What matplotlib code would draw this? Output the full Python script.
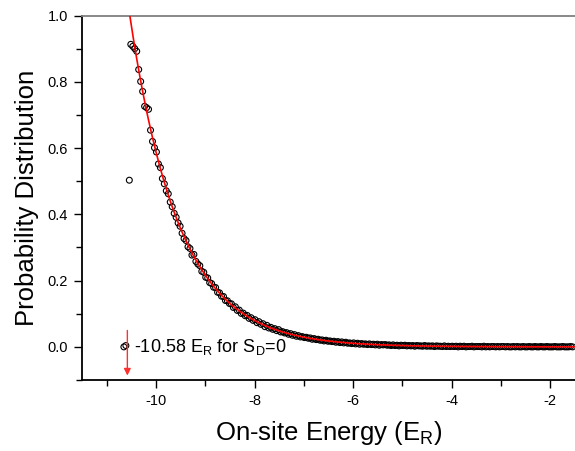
import numpy as np
import matplotlib
matplotlib.use("Agg")
import matplotlib.pyplot as plt
from matplotlib.ticker import MultipleLocator

plt.rcParams['font.family'] = ['Liberation Sans', 'DejaVu Sans']
plt.rcParams['mathtext.default'] = 'regular'
plt.rcParams['axes.unicode_minus'] = False

# histogram bin centres (regular bins)
bin_start = -10.51
bin_width = 0.04
prob = [
    0.913, 0.907, 0.900, 0.892, 0.837, 0.801, 0.771, 0.726, 0.722, 0.717, 0.654, 0.620,
    0.601, 0.588, 0.552, 0.541, 0.508, 0.492, 0.471, 0.462, 0.437,
    0.423, 0.403, 0.391, 0.374, 0.364, 0.343, 0.327, 0.321, 0.302, 0.297,
    0.277, 0.279, 0.258, 0.250, 0.245, 0.228, 0.225, 0.210, 0.208, 0.194,
    0.191, 0.180, 0.179, 0.165, 0.163, 0.153, 0.152, 0.140, 0.139, 0.131,
    0.130, 0.119, 0.121, 0.110, 0.111, 0.101, 0.102, 0.094, 0.095, 0.086,
    0.088, 0.080, 0.082, 0.073, 0.076, 0.068, 0.070, 0.061, 0.065, 0.057,
    0.059, 0.053, 0.055, 0.049, 0.052, 0.045, 0.046, 0.042, 0.043, 0.038,
    0.040, 0.035, 0.037, 0.032, 0.034, 0.030, 0.031, 0.028, 0.029, 0.026,
    0.027, 0.023, 0.025, 0.022, 0.023, 0.020, 0.021, 0.018, 0.020, 0.017,
    0.018, 0.016, 0.017, 0.014, 0.016, 0.013, 0.015, 0.012, 0.014, 0.011,
    0.012, 0.010, 0.012, 0.009, 0.011, 0.008, 0.010, 0.008, 0.009, 0.007,
    0.009, 0.007, 0.008, 0.006, 0.008, 0.005, 0.007, 0.006, 0.007, 0.005,
    0.006, 0.004, 0.006, 0.004, 0.005, 0.003, 0.005, 0.004, 0.005, 0.003,
    0.004, 0.003, 0.004, 0.002, 0.004, 0.003, 0.003, 0.002, 0.004, 0.002,
    0.003, 0.002, 0.003, 0.001, 0.003, 0.002, 0.002, 0.001, 0.003, 0.001,
    0.002, 0.001, 0.002, 0.001, 0.002, 0.000, 0.002, 0.001, 0.002, 0.000,
    0.001, 0.001, 0.002, 0.000, 0.001, 0.001, 0.001, 0.000, 0.002, 0.000,
    0.001, 0.000, 0.001, 0.001, 0.000, 0.001, 0.000, 0.001, 0.001, 0.000,
    0.001, 0.000, 0.000, 0.001, 0.000, 0.001, 0.000, 0.000, 0.001, 0.000,
    0.000, 0.001, 0.000, 0.000, 0.001, 0.000, 0.000, 0.001, 0.000, 0.000,
    0.001, 0.000, 0.000, 0.000, 0.001, 0.000, 0.000, 0.000, 0.001, 0.000,
    0.000, 0.000, 0.001, 0.000,
]
energy = bin_start + bin_width * np.arange(len(prob))

# isolated points near the band edge
energy_extra = [-10.54, -10.65, -10.61]
prob_extra = [0.503, 0.000, 0.004]

# fitted curve
fit_energy = [-10.60, -10.53, -10.25, -10.0, -9.75, -9.5, -9.25, -9.0, -8.5, -8.0,
              -7.5, -7.0, -6.5, -6.0, -5.0, -4.0, -3.0, -2.0, -1.4]
fit_prob = [1.073, 1.000, 0.756, 0.589, 0.458, 0.357, 0.278, 0.217, 0.131, 0.0797,
            0.0483, 0.0293, 0.0178, 0.0108, 0.0040, 0.0015, 0.00054, 0.0002, 0.0001]

arrow_x = -10.58
label = '-10.58 E$_R$ for S$_D$=0'

fig = plt.figure(figsize=(5.75, 4.51), dpi=100)
ax = fig.add_axes([0.1426, 0.1574, 0.8574, 0.8082])

# smooth fit line via log-space interpolation
xf = np.linspace(fit_energy[0], fit_energy[-1], 600)
yf = np.exp(np.interp(xf, fit_energy, np.log(fit_prob)))

ax.scatter(energy, prob, s=18, facecolors='none', edgecolors='black', linewidths=0.8, zorder=2)
ax.scatter(energy_extra, prob_extra, s=18, facecolors='none', edgecolors='black', linewidths=0.8, zorder=2)
ax.plot(xf, yf, color='#ff0000', lw=1.2, zorder=3)

ax.annotate('', xy=(arrow_x, -0.095), xytext=(arrow_x, 0.058),
            arrowprops=dict(arrowstyle='-|>', color='#ff3030', lw=1.0, mutation_scale=10),
            zorder=4)
ax.text(-10.45, 0.0, label, fontsize=13, va='center', ha='left')

ax.set_xlim(-11.5, -1.5)
ax.set_ylim(-0.1, 1.0)
ax.xaxis.set_major_locator(MultipleLocator(2))
ax.xaxis.set_minor_locator(MultipleLocator(1))
ax.yaxis.set_major_locator(MultipleLocator(0.2))
ax.yaxis.set_minor_locator(MultipleLocator(0.1))
ax.yaxis.set_major_formatter(matplotlib.ticker.FormatStrFormatter('%.1f'))

ax.spines['right'].set_visible(False)
ax.spines['top'].set_color('#808080')
ax.spines['top'].set_linewidth(1.3)
ax.spines['left'].set_linewidth(1.3)
ax.spines['bottom'].set_linewidth(1.3)

ax.tick_params(which='major', direction='out', length=6, width=1.0, labelsize=10.5, pad=4)
ax.tick_params(which='minor', direction='out', length=4, width=1.0)
ax.tick_params(top=False, right=False)

ax.set_xlabel('On-site Energy (E$_R$)', fontsize=18.5, labelpad=8)
ax.set_ylabel('Probability Distribution', fontsize=18.5, labelpad=6)

fig.savefig('out.png', dpi=100)
